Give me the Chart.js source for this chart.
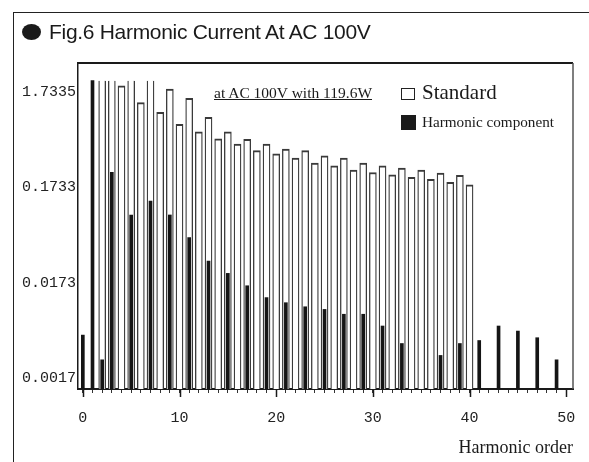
<!DOCTYPE html>
<html>
<head>
<meta charset="utf-8">
<script src="https://cdn.jsdelivr.net/npm/chart.js/dist/chart.umd.min.js"></script>
<style>
  body { margin: 0; width: 589px; height: 462px; position: relative; overflow: hidden; background: #fff; }
  #frame { position: absolute; left: 13px; top: 12px; width: 600px; height: 500px;
           border-left: 1.5px solid #222; border-top: 1.5px solid #222; }
  #title { position: absolute; left: 22px; top: 21px; font: 21px "Liberation Sans", Arial, sans-serif;
           line-height: 21px; letter-spacing: -0.3px; color: #1a1a1a; white-space: nowrap; z-index: 2; }
  #title .dot { display: inline-block; width: 19px; height: 16px; border-radius: 50%; background: #1a1a1a;
                margin-right: 8px; vertical-align: -1px; }
  canvas { position: absolute; left: 0; top: 0; z-index: 1; }
  .txt { position: absolute; font-family: "Liberation Serif", "Times New Roman", serif; color: #1a1a1a;
         white-space: nowrap; z-index: 2; }
  #note { left: 214px; top: 85px; font-size: 15.5px; line-height: 15px; text-decoration: underline; }
  #lgStd { left: 422px; top: 82px; font-size: 21px; line-height: 21px; }
  #lgHar { left: 422px; top: 114px; font-size: 15.2px; line-height: 15px; }
  .box { position: absolute; z-index: 2; box-sizing: border-box; }
  #boxStd { left: 401px; top: 88px; width: 14px; height: 12px; border: 1.5px solid #222; background: #fff; }
  #boxHar { left: 401px; top: 115px; width: 15px; height: 15px; background: #1a1a1a; }
</style>
</head>
<body>
<div id="frame"></div>
<div id="title"><span class="dot"></span>Fig.6 Harmonic Current At AC 100V</div>
<canvas id="chart" width="589" height="462"></canvas>
<div id="note" class="txt">at AC 100V with 119.6W</div>
<div id="boxStd" class="box"></div>
<div id="lgStd" class="txt">Standard</div>
<div id="boxHar" class="box"></div>
<div id="lgHar" class="txt">Harmonic component</div>
<script>
// limit values (the plot clips everything above ~2.26)
const standardOrders = [2, 3, 4, 5, 6, 7, 8, 9, 10, 11, 12, 13, 14, 15, 16, 17, 18, 19, 20, 21,
  22, 23, 24, 25, 26, 27, 28, 29, 30, 31, 32, 33, 34, 35, 36, 37, 38, 39, 40];
const standardValues = [2.26, 2.26, 2.00, 2.26, 1.33, 2.26, 1.055, 1.85, 0.79, 1.48, 0.66, 0.935,
  0.555, 0.66, 0.49, 0.55, 0.418, 0.49, 0.387, 0.435, 0.349, 0.418, 0.309, 0.368, 0.290, 0.349,
  0.262, 0.309, 0.247, 0.290, 0.234, 0.274, 0.220, 0.262, 0.210, 0.243, 0.195, 0.231, 0.183];

// measured harmonic current
const componentOrders = [0, 1, 2, 3, 5, 7, 9, 11, 13, 15, 17, 19, 21, 23, 25, 27, 29, 31, 33,
  37, 39, 41, 43, 45, 47, 49];
const componentValues = [0.0049, 2.26, 0.0027, 0.248, 0.0887, 0.124, 0.0887, 0.0513, 0.0292,
  0.0217, 0.0161, 0.0121, 0.0107, 0.0097, 0.0091, 0.0081, 0.0081, 0.0061, 0.0040, 0.0030,
  0.0040, 0.0043, 0.0061, 0.0054, 0.0046, 0.0027];

const yTickValues = [0.0017335, 0.017335, 0.17335, 1.7335];
const yTickLabels = ['0.0017', '0.0173', '0.1733', '1.7335'];
const xMajorTicks = [0, 10, 20, 30, 40, 50];
const xTickLabels = ['0', '10', '20', '30', '40', '50'];
const clipValue = 2.26;

const tickFont = { family: '"Liberation Mono", monospace', size: 15 };

const framePlugin = {
  id: 'frame',
  afterDraw(chart) {
    const { ctx, chartArea: a, scales: { x } } = chart;
    ctx.save();
    ctx.strokeStyle = '#1a1a1a';
    ctx.lineWidth = 2;
    ctx.beginPath();
    ctx.moveTo(a.left, a.top);
    ctx.lineTo(a.right, a.top);
    ctx.stroke();
    ctx.lineWidth = 1.5;
    ctx.strokeStyle = '#555';
    ctx.beginPath();
    ctx.moveTo(a.right, a.top);
    ctx.lineTo(a.right, a.bottom);
    ctx.stroke();
    // longer ticks every 10
    ctx.strokeStyle = '#1a1a1a';
    xMajorTicks.forEach(v => {
      const px = Math.round(x.getPixelForValue(v)) + 0.5;
      ctx.beginPath();
      ctx.moveTo(px, a.bottom);
      ctx.lineTo(px, a.bottom + 8);
      ctx.stroke();
    });
    ctx.restore();
  }
};

new Chart(document.getElementById('chart'), {
  type: 'bar',
  data: {
    datasets: [
      {
        label: 'Harmonic component',
        data: componentOrders.map((n, i) => ({ x: n, y: componentValues[i] })),
        backgroundColor: '#151515',
        borderWidth: 0,
        barThickness: 3,
        order: 0
      },
      {
        label: 'Standard',
        data: standardOrders.map((n, i) => ({ x: n, y: standardValues[i] })),
        backgroundColor: '#fff',
        borderColor: '#3a3a3a',
        borderWidth: (c) => {
          const v = c.parsed ? c.parsed.y : 0;
          return { top: v >= clipValue ? 0 : 2, left: 1.3, right: 1.3, bottom: 0 };
        },
        barThickness: 7,
        order: 1
      }
    ]
  },
  options: {
    responsive: false,
    devicePixelRatio: 1,
    animation: false,
    grouped: false,
    layout: { padding: { top: 63, right: 16, left: 0, bottom: 0 } },
    plugins: { legend: { display: false }, tooltip: { enabled: false } },
    scales: {
      x: {
        type: 'linear',
        min: -0.5,
        max: 50.7,
        offset: false,
        afterFit(s) { s.height = 73; s.paddingLeft = 0; s.paddingRight = 0; },
        afterBuildTicks(s) {
          const t = [];
          for (let v = 0; v <= 50; v++) t.push({ value: v });
          s.ticks = t;
        },
        grid: { offset: false, drawOnChartArea: false, drawTicks: true, tickLength: 4, tickColor: '#333', tickWidth: 1 },
        border: { display: true, color: '#1a1a1a', width: 2 },
        ticks: {
          autoSkip: false, maxRotation: 0, minRotation: 0, padding: 16,
          color: '#222', font: tickFont,
          callback: (v) => { const k = xMajorTicks.indexOf(v); return k >= 0 ? xTickLabels[k] : ''; }
        },
        title: {
          display: true, text: 'Harmonic order', align: 'end', color: '#1a1a1a',
          font: { family: '"Liberation Serif", serif', size: 18 },
          padding: { top: 0, bottom: 3 }
        }
      },
      y: {
        type: 'logarithmic',
        min: 0.001336,
        max: 3.46,
        afterFit(s) { s.width = 78; },
        afterBuildTicks(s) { s.ticks = yTickValues.map(v => ({ value: v })); },
        grid: { display: false, drawTicks: false },
        border: { display: true, color: '#1a1a1a', width: 1.5 },
        ticks: {
          padding: 2, color: '#222', font: tickFont,
          callback: (v) => { const k = yTickValues.indexOf(v); return k >= 0 ? yTickLabels[k] : ''; }
        }
      }
    }
  },
  plugins: [framePlugin]
});
</script>
</body>
</html>
